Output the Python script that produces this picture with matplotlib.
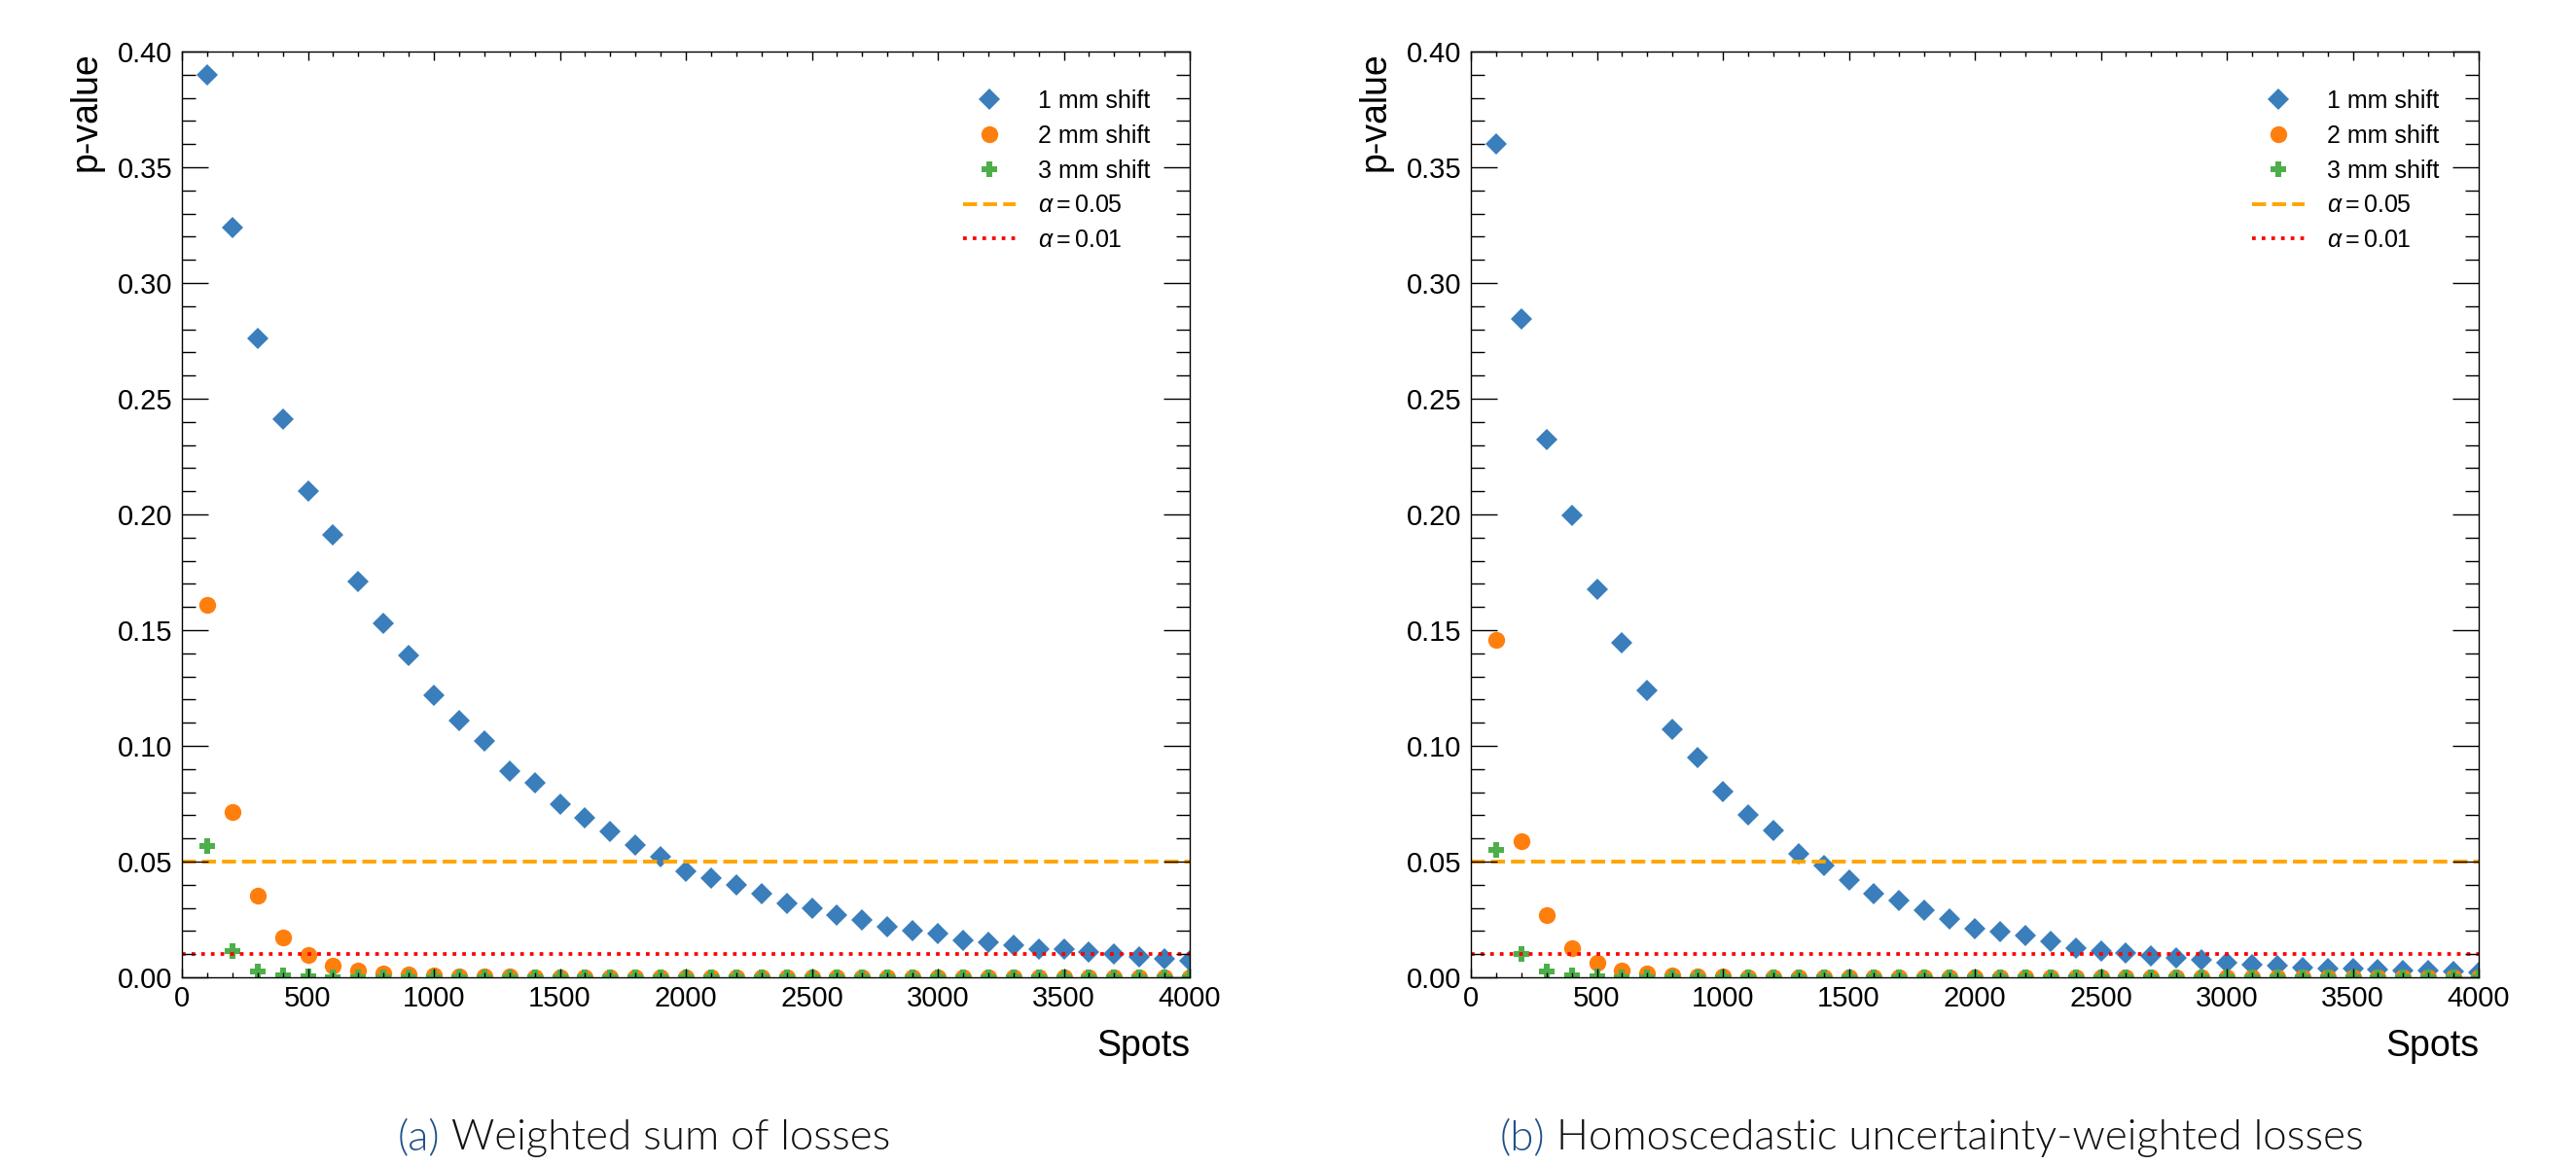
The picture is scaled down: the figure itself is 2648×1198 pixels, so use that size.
import matplotlib
matplotlib.use('Agg')
import matplotlib.pyplot as plt
from matplotlib.ticker import MultipleLocator, FormatStrFormatter

# x positions (number of spots)
spots = [100, 200, 300, 400, 500, 600, 700, 800, 900, 1000,
         1100, 1200, 1300, 1400, 1500, 1600, 1700, 1800, 1900, 2000,
         2100, 2200, 2300, 2400, 2500, 2600, 2700, 2800, 2900, 3000,
         3100, 3200, 3300, 3400, 3500, 3600, 3700, 3800, 3900, 4000]

# (a) weighted sum of losses
a_1mm = [0.390, 0.324, 0.276, 0.241, 0.210, 0.191, 0.171, 0.153, 0.139, 0.122,
         0.111, 0.102, 0.089, 0.084, 0.075, 0.069, 0.063, 0.057, 0.052, 0.046,
         0.043, 0.040, 0.036, 0.032, 0.030, 0.027, 0.025, 0.022, 0.020, 0.019,
         0.016, 0.015, 0.014, 0.012, 0.012, 0.011, 0.010, 0.009, 0.008, 0.007]
a_2mm = [0.161, 0.0714, 0.0352, 0.0174, 0.0096, 0.0049, 0.0028, 0.0018, 0.0013, 0.0009,
         0.0006, 0.0004, 0.0003, 0.0002, 0.0001, 0.0001, 0.0001, 0.0, 0.0, 0.0,
         0.0, 0.0, 0.0, 0.0, 0.0, 0.0, 0.0, 0.0, 0.0, 0.0,
         0.0, 0.0, 0.0, 0.0, 0.0, 0.0, 0.0, 0.0, 0.0, 0.0]
a_3mm = [0.0566, 0.0112, 0.0025, 0.0008, 0.0003, 0.0001, 0.0, 0.0, 0.0, 0.0,
         0.0, 0.0, 0.0, 0.0, 0.0, 0.0, 0.0, 0.0, 0.0, 0.0,
         0.0, 0.0, 0.0, 0.0, 0.0, 0.0, 0.0, 0.0, 0.0, 0.0,
         0.0, 0.0, 0.0, 0.0, 0.0, 0.0, 0.0, 0.0, 0.0, 0.0]

# (b) homoscedastic uncertainty-weighted losses
b_1mm = [0.360, 0.2845, 0.2323, 0.1995, 0.1675, 0.1445, 0.1241, 0.1071, 0.0949, 0.0801,
         0.0701, 0.0634, 0.0535, 0.0484, 0.0422, 0.0361, 0.0331, 0.0289, 0.0253, 0.0211,
         0.0197, 0.0180, 0.0154, 0.0128, 0.0113, 0.0106, 0.0092, 0.0082, 0.0077, 0.0065,
         0.0056, 0.0052, 0.0044, 0.0038, 0.0039, 0.0032, 0.0030, 0.0028, 0.0025, 0.0023]
b_2mm = [0.1458, 0.0588, 0.0270, 0.0126, 0.0061, 0.0030, 0.0017, 0.0010, 0.0006, 0.0004,
         0.0002, 0.0001, 0.0001, 0.0, 0.0, 0.0, 0.0, 0.0, 0.0, 0.0,
         0.0, 0.0, 0.0, 0.0, 0.0, 0.0, 0.0, 0.0, 0.0, 0.0,
         0.0, 0.0, 0.0, 0.0, 0.0, 0.0, 0.0, 0.0, 0.0, 0.0]
b_3mm = [0.0551, 0.0100, 0.0025, 0.0007, 0.0003, 0.0001, 0.0, 0.0, 0.0, 0.0,
         0.0, 0.0, 0.0, 0.0, 0.0, 0.0, 0.0, 0.0, 0.0, 0.0,
         0.0, 0.0, 0.0, 0.0, 0.0, 0.0, 0.0, 0.0, 0.0, 0.0,
         0.0, 0.0, 0.0, 0.0, 0.0, 0.0, 0.0, 0.0, 0.0, 0.0]

alphas = [0.05, 0.01]
captions = [('(a)', ' Weighted sum of losses'),
            ('(b)', ' Homoscedastic uncertainty-weighted losses')]

plt.rcParams['font.family'] = ['Liberation Sans', 'DejaVu Sans']
plt.rcParams['mathtext.fontset'] = 'custom'
plt.rcParams['mathtext.rm'] = 'Liberation Sans'
plt.rcParams['mathtext.it'] = 'Liberation Sans:italic'

W, H = 2648, 1198
fig = plt.figure(figsize=(W / 100, H / 100), dpi=100)
ax_a = fig.add_axes([187 / W, (H - 1005) / H, 1036 / W, 952 / H])
ax_b = fig.add_axes([1512 / W, (H - 1005) / H, 1036 / W, 952 / H])


def draw_panel(ax, s1, s2, s3):
    ax.plot(spots, s1, 'D', color='#3a7ebb', ms=11.7, mew=0, label='1 mm shift')
    ax.plot(spots, s2, 'o', color='#ff7f0e', ms=12.5, mew=0, label='2 mm shift')
    ax.plot(spots, s3, 'P', color='#4daf4a', ms=12, mew=0, label='3 mm shift')
    ax.axhline(alphas[0], color='orange', ls='--', lw=2.8, label=r'$\alpha = 0.05$')
    ax.axhline(alphas[1], color='red', ls=':', lw=2.7, label=r'$\alpha = 0.01$')

    ax.set_xlim(0, 4000)
    ax.set_ylim(0, 0.4)
    ax.xaxis.set_major_locator(MultipleLocator(500))
    ax.xaxis.set_minor_locator(MultipleLocator(100))
    ax.yaxis.set_major_locator(MultipleLocator(0.05))
    ax.yaxis.set_minor_locator(MultipleLocator(0.01))
    ax.yaxis.set_major_formatter(FormatStrFormatter('%.2f'))
    ax.set_axisbelow(False)

    ax.tick_params(which='both', direction='in', top=True, right=True, width=1.0)
    ax.tick_params(axis='x', which='major', length=6.5, pad=6, labelsize=21)
    ax.tick_params(axis='x', which='minor', length=3.6)
    ax.tick_params(axis='y', which='major', length=19.5, pad=7, labelsize=21)
    ax.tick_params(axis='y', which='minor', length=10)
    for sp in ax.spines.values():
        sp.set_linewidth(1.0)

    ax.set_xlabel('Spots', loc='right', fontsize=27, labelpad=12)
    ax.set_ylabel('p-value', loc='top', fontsize=27, labelpad=10)

    ax.legend(loc='upper right', bbox_to_anchor=(0.9604, 0.959), frameon=False,
              fontsize=18, handlelength=2.15, handletextpad=0.92, labelspacing=0.47,
              borderpad=0, borderaxespad=0)


draw_panel(ax_a, a_1mm, a_2mm, a_3mm)
draw_panel(ax_b, b_1mm, b_2mm, b_3mm)

# sub-captions, centred under each half of the figure
cap_font = dict(family=['Lato', 'DejaVu Sans'], fontweight=300, fontsize=31.5)
texts = []
for (tag, rest), xc in zip(captions, [0.25, 0.75]):
    t1 = fig.text(0, (H - 1182) / H, tag, color='#1f5189', va='baseline', **cap_font)
    t2 = fig.text(0, (H - 1182) / H, rest, color='#111111', va='baseline', **cap_font)
    texts.append((t1, t2, xc))

fig.canvas.draw()
r = fig.canvas.get_renderer()
for t1, t2, xc in texts:
    w1 = t1.get_window_extent(r).width
    w2 = t2.get_window_extent(r).width
    x0 = xc * W - (w1 + w2) / 2
    t1.set_x(x0 / W)
    t2.set_x((x0 + w1) / W)

fig.savefig('out.png', dpi=100)
